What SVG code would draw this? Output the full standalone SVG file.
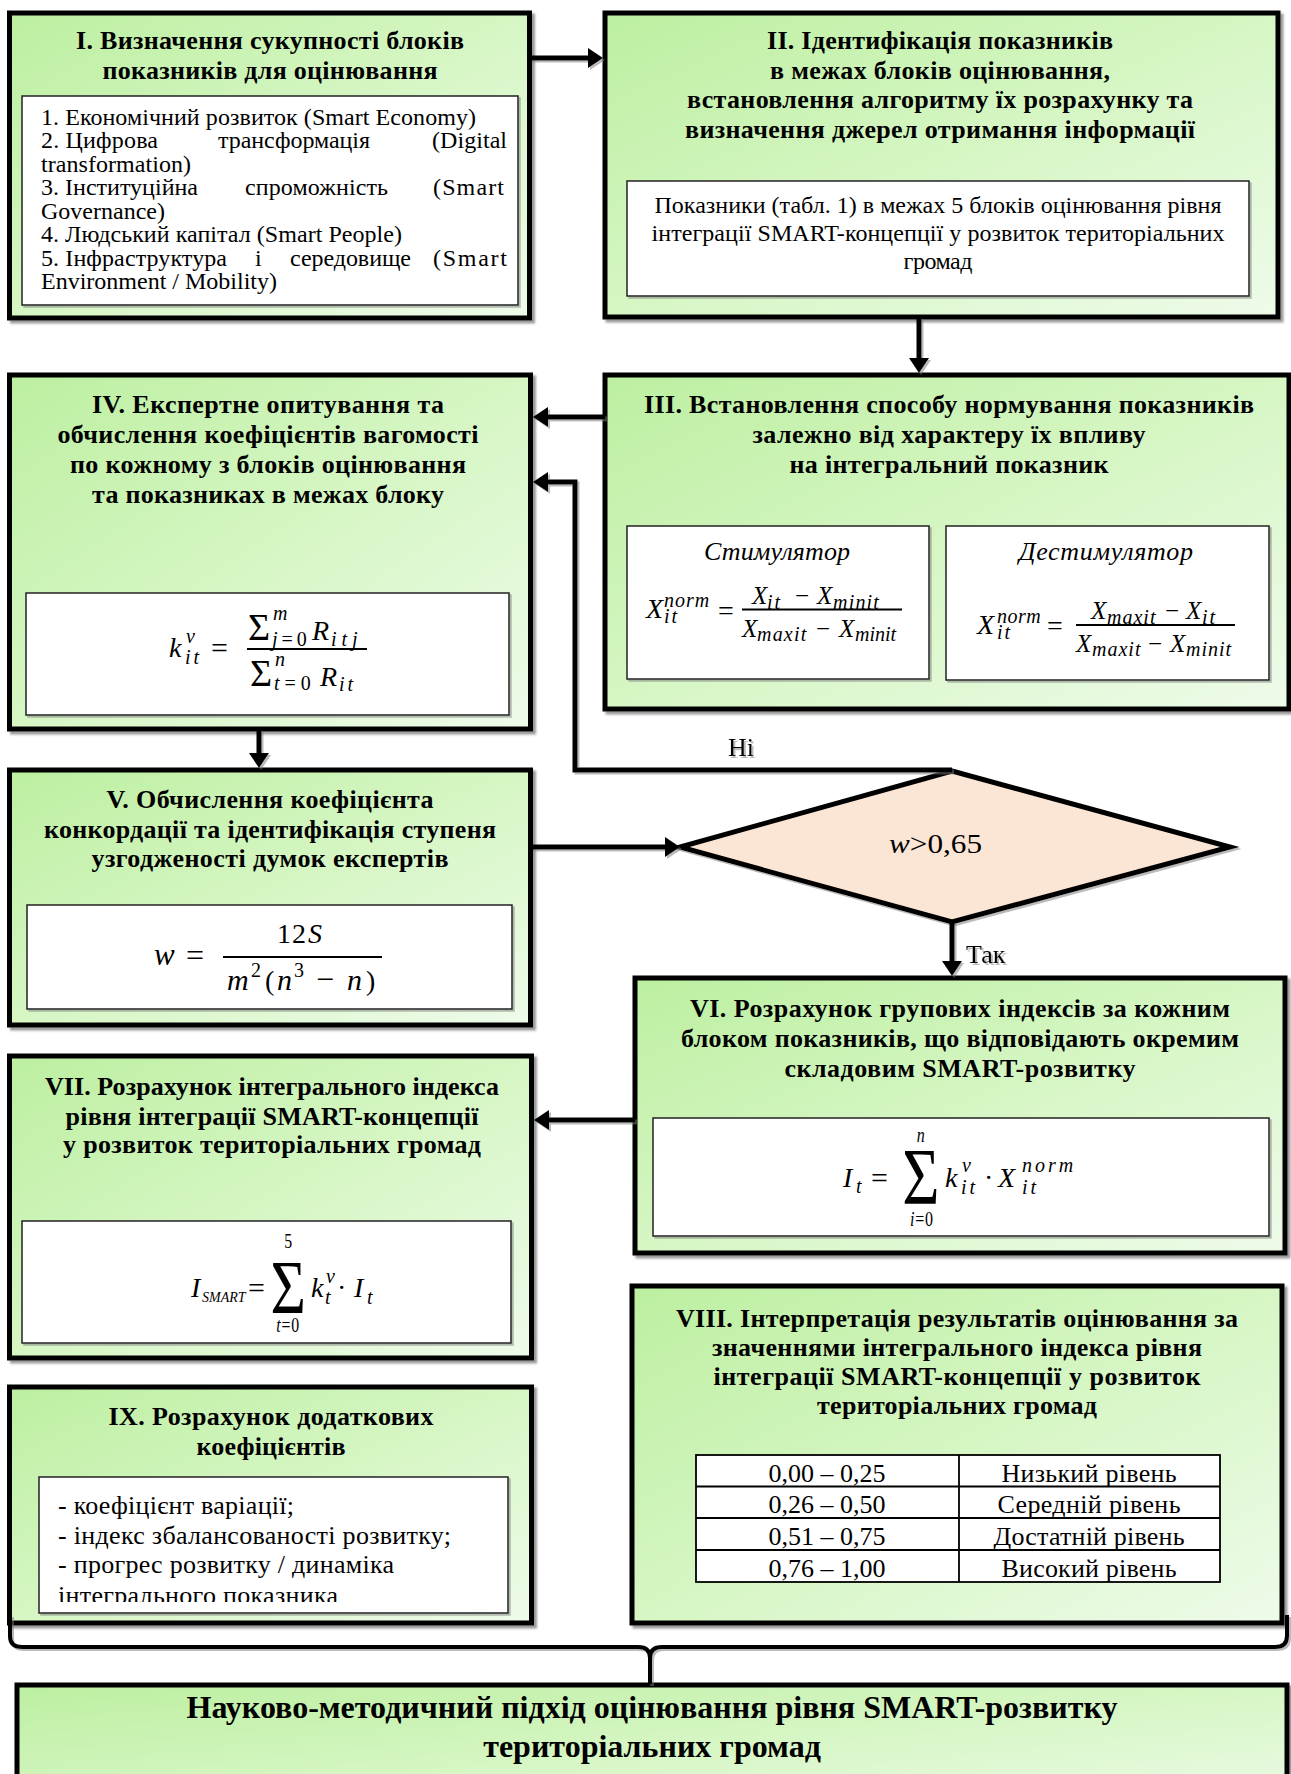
<svg xmlns="http://www.w3.org/2000/svg" width="1291" height="1774" viewBox="0 0 1291 1774">
<defs>
<linearGradient id="g" x1="0" y1="0" x2="1" y2="1">
<stop offset="0" stop-color="#bcefa0"/>
<stop offset="0.5" stop-color="#d6f6c4"/>
<stop offset="1" stop-color="#eefbea"/>
</linearGradient>
<filter id="sh" filterUnits="userSpaceOnUse" x="0" y="0" width="1291" height="1774">
<feDropShadow dx="3" dy="3" stdDeviation="0.8" flood-color="#555" flood-opacity="0.6"/>
</filter>
<filter id="sh2" filterUnits="userSpaceOnUse" x="0" y="0" width="1291" height="1774">
<feDropShadow dx="2" dy="2" stdDeviation="0.6" flood-color="#777" flood-opacity="0.5"/>
</filter>
<marker id="ah" markerUnits="userSpaceOnUse" markerWidth="15" markerHeight="20" viewBox="0 0 15 20" refX="1" refY="10" orient="auto">
<path d="M0,0 L15,10 L0,20 Z" fill="#000"/>
</marker>
<clipPath id="c9"><rect x="39" y="1477" width="469" height="125"/></clipPath>
</defs>
<style>
.box{fill:url(#g);stroke:#000;stroke-width:5}
.wb{fill:#fff;stroke:#222;stroke-width:1.5}
.t{font-family:"Liberation Serif","Times New Roman",serif;fill:#000}
.b{font-weight:700;font-size:26px;text-anchor:middle}
.r24{font-size:24px}
.r26{font-size:26px}
.mid{text-anchor:middle}
.it{font-style:italic}
.m{font-family:"Liberation Serif","Times New Roman",serif;font-style:italic;font-size:28px;fill:#000}
.m25{font-size:25px}
.s{font-size:20px}
.up{font-style:normal}
.bar{stroke:#000;stroke-width:1.8}
.con{fill:none;stroke:#000;stroke-width:5}
</style>

<g id="n1">
<rect class="box" x="9.5" y="13" width="520" height="305" filter="url(#sh)"/>
<text class="t b" x="270" y="49" textLength="388">I. Визначення сукупності блоків</text>
<text class="t b" x="270" y="79" textLength="335">показників для оцінювання</text>
<rect class="wb" x="22" y="96" width="496" height="209" filter="url(#sh2)"/>
<text class="t r24" x="41" y="125" textLength="435">1. Економічний розвиток (Smart Economy)</text>
<text class="t r24" x="41" y="148" textLength="117">2. Цифрова</text>
<text class="t r24" x="218" y="148" textLength="152">трансформація</text>
<text class="t r24" x="432" y="148" textLength="75">(Digital</text>
<text class="t r24" x="41" y="172" textLength="150">transformation)</text>
<text class="t r24" x="41" y="195" textLength="157">3. Інституційна</text>
<text class="t r24" x="245" y="195" textLength="143">спроможність</text>
<text class="t r24" x="433" y="195" textLength="71">(Smart</text>
<text class="t r24" x="41" y="219" textLength="124">Governance)</text>
<text class="t r24" x="41" y="242" textLength="361">4. Людський капітал (Smart People)</text>
<text class="t r24" x="41" y="266" textLength="186">5. Інфраструктура</text>
<text class="t r24" x="255" y="266">і</text>
<text class="t r24" x="290" y="266" textLength="121">середовище</text>
<text class="t r24" x="433" y="266" textLength="74">(Smart</text>
<text class="t r24" x="41" y="289" textLength="236">Environment / Mobility)</text>
</g>

<g id="n2">
<rect class="box" x="605" y="13" width="673" height="304" filter="url(#sh)"/>
<text class="t b" x="940" y="49" textLength="346">II. Ідентифікація показників</text>
<text class="t b" x="940" y="79" textLength="340">в межах блоків оцінювання,</text>
<text class="t b" x="940" y="108" textLength="506">встановлення алгоритму їх розрахунку та</text>
<text class="t b" x="940" y="138" textLength="510">визначення джерел отримання інформації</text>
<rect class="wb" x="627" y="181" width="622" height="115" filter="url(#sh2)"/>
<text class="t r24 mid" x="938" y="213" textLength="567">Показники (табл. 1) в межах 5 блоків оцінювання рівня</text>
<text class="t r24 mid" x="938" y="241" textLength="573">інтеграції SMART-концепції у розвиток територіальних</text>
<text class="t r24 mid" x="938" y="269" textLength="69">громад</text>
</g>

<g id="n3">
<rect class="box" x="605" y="375" width="684" height="334" filter="url(#sh)"/>
<text class="t b" x="949" y="413" textLength="610">III. Встановлення способу нормування показників</text>
<text class="t b" x="949" y="443" textLength="393">залежно від характеру їх впливу</text>
<text class="t b" x="949" y="473" textLength="319">на інтегральний показник</text>
<rect class="wb" x="627" y="526" width="302" height="153" filter="url(#sh2)"/>
<text class="t r26 it mid" x="777" y="560" textLength="146">Стимулятор</text>
<text class="m"><tspan x="646" y="618">X</tspan><tspan class="s" x="664" y="607" letter-spacing="1">norm</tspan><tspan class="s" x="664" y="623" letter-spacing="2">it</tspan><tspan class="up" x="718" y="620">=</tspan></text>
<line class="bar" x1="742" y1="609.5" x2="902" y2="609.5"/>
<text class="m m25"><tspan x="752" y="604">X</tspan><tspan class="s" x="767" y="609" letter-spacing="2">it</tspan><tspan class="up" x="795" y="604">−</tspan><tspan x="817" y="604">X</tspan><tspan class="s" x="833" y="609" letter-spacing="1.2">minit</tspan></text>
<text class="m m25"><tspan x="742" y="637">X</tspan><tspan class="s" x="757" y="641" letter-spacing="1.2">maxit</tspan><tspan class="up" x="816" y="637">−</tspan><tspan x="839" y="637">X</tspan><tspan class="s" x="855" y="641">minit</tspan></text>
<rect class="wb" x="946" y="526" width="323" height="154" filter="url(#sh2)"/>
<text class="t r26 it mid" x="1106" y="560" textLength="174">Дестимулятор</text>
<text class="m"><tspan x="977" y="634">X</tspan><tspan class="s" x="997" y="623" letter-spacing="0.5">norm</tspan><tspan class="s" x="997" y="639" letter-spacing="2">it</tspan><tspan class="up" x="1047" y="635">=</tspan></text>
<line class="bar" x1="1076" y1="625" x2="1235" y2="625"/>
<text class="m m25"><tspan x="1091" y="619">X</tspan><tspan class="s" x="1107" y="624" letter-spacing="1">maxit</tspan><tspan class="up" x="1165" y="619">−</tspan><tspan x="1186" y="619">X</tspan><tspan class="s" x="1202" y="624" letter-spacing="2">it</tspan></text>
<text class="m m25"><tspan x="1076" y="652">X</tspan><tspan class="s" x="1092" y="656" letter-spacing="1">maxit</tspan><tspan class="up" x="1148" y="652">−</tspan><tspan x="1170" y="652">X</tspan><tspan class="s" x="1186" y="656" letter-spacing="1">minit</tspan></text>
</g>

<g id="n4">
<rect class="box" x="9.5" y="375" width="521" height="354" filter="url(#sh)"/>
<text class="t b" x="268" y="413" textLength="352">IV. Експертне опитування та</text>
<text class="t b" x="268" y="443" textLength="421">обчислення коефіцієнтів вагомості</text>
<text class="t b" x="268" y="473" textLength="396">по кожному з блоків оцінювання</text>
<text class="t b" x="268" y="503" textLength="352">та показниках в межах блоку</text>
<rect class="wb" x="26" y="593" width="483" height="122" filter="url(#sh2)"/>
<text class="m"><tspan x="169" y="657">k</tspan><tspan class="s" x="186" y="643">v</tspan><tspan class="s" x="185" y="664" letter-spacing="3">it</tspan><tspan class="up" x="211" y="658" font-size="30">=</tspan></text>
<line class="bar" x1="247" y1="649" x2="367" y2="649"/>
<text class="m"><tspan class="up" x="248" y="640" font-size="38">Σ</tspan><tspan class="s" x="273" y="620">m</tspan><tspan class="s" x="272" y="646" letter-spacing="4">j<tspan class="up">=0</tspan></tspan><tspan x="312" y="640">R</tspan><tspan class="s" x="331" y="646" letter-spacing="5">itj</tspan></text>
<text class="m"><tspan class="up" x="250" y="686" font-size="38">Σ</tspan><tspan class="s" x="275" y="666">n</tspan><tspan class="s" x="274" y="690" letter-spacing="5">t<tspan class="up">=0</tspan></tspan><tspan x="320" y="686">R</tspan><tspan class="s" x="339" y="691" letter-spacing="3">it</tspan></text>
</g>

<g id="n5">
<rect class="box" x="9.5" y="770" width="521" height="255" filter="url(#sh)"/>
<text class="t b" x="270" y="808" textLength="327">V. Обчислення коефіцієнта</text>
<text class="t b" x="270" y="838" textLength="452">конкордації та ідентифікація ступеня</text>
<text class="t b" x="270" y="867" textLength="357">узгодженості думок експертів</text>
<rect class="wb" x="27" y="905" width="485" height="104" filter="url(#sh2)"/>
<text class="m"><tspan x="154" y="965" font-size="31">w</tspan><tspan class="up" x="186" y="966" font-size="32">=</tspan></text>
<line class="bar" x1="223" y1="957" x2="382" y2="957"/>
<text class="m"><tspan class="up" x="277" y="943" letter-spacing="1">12</tspan><tspan x="308" y="943">S</tspan></text>
<text class="m"><tspan x="227" y="990" font-size="30">m</tspan><tspan class="s up" x="251" y="977">2</tspan><tspan class="up" x="265" y="990">(</tspan><tspan x="277" y="990" font-size="30">n</tspan><tspan class="s up" x="294" y="977">3</tspan><tspan class="up" x="316" y="990" font-size="32">−</tspan><tspan x="347" y="990" font-size="30">n</tspan><tspan class="up" x="366" y="990">)</tspan></text>
</g>

<g id="n_decision">
<polygon points="952,771 1230,847 952,922 680,847" fill="#fbe5d5" stroke="#000" stroke-width="5" stroke-linejoin="miter" filter="url(#sh2)"/>
<text class="t" x="889" y="853" font-size="28" textLength="93" lengthAdjust="spacingAndGlyphs"><tspan font-style="italic">w</tspan>&gt;0,65</text>
</g>

<g id="n6">
<rect class="box" x="635" y="978" width="650" height="275" filter="url(#sh)"/>
<text class="t b" x="960" y="1017" textLength="540">VI. Розрахунок групових індексів за кожним</text>
<text class="t b" x="960" y="1047" textLength="558">блоком показників, що відповідають окремим</text>
<text class="t b" x="960" y="1077" textLength="351">складовим SMART-розвитку</text>
<rect class="wb" x="653" y="1118" width="616" height="118" filter="url(#sh2)"/>
<text class="m"><tspan x="843" y="1187">I</tspan><tspan class="s" x="856" y="1193">t</tspan><tspan class="up" x="871" y="1188" font-size="30">=</tspan></text>
<text class="m mid" transform="translate(902,1204) scale(0.8,1)"><tspan class="up" x="23.5" y="0" font-size="80">Σ</tspan><tspan class="s" x="23.5" y="-62" font-size="21">n</tspan><tspan class="s" x="25" y="22" font-size="21" letter-spacing="1">i<tspan class="up">=0</tspan></tspan></text>
<text class="m"><tspan x="945" y="1187">k</tspan><tspan class="s" x="962" y="1172">v</tspan><tspan class="s" x="961" y="1194" letter-spacing="3">it</tspan><tspan class="up" x="984" y="1187">·</tspan><tspan x="998" y="1187">X</tspan><tspan class="s" x="1022" y="1172" letter-spacing="3">norm</tspan><tspan class="s" x="1022" y="1194" letter-spacing="3">it</tspan></text>
</g>

<g id="n7">
<rect class="box" x="9.5" y="1056" width="522" height="302" filter="url(#sh)"/>
<text class="t b" x="272" y="1095" textLength="454">VII. Розрахунок інтегрального індекса</text>
<text class="t b" x="272" y="1125" textLength="413">рівня інтеграції SMART-концепції</text>
<text class="t b" x="272" y="1153" textLength="418">у розвиток територіальних громад</text>
<rect class="wb" x="22" y="1221" width="489" height="122" filter="url(#sh2)"/>
<text class="m"><tspan x="191" y="1297">I</tspan><tspan x="202" y="1302" font-size="14">SMART</tspan><tspan class="up" x="248" y="1298" font-size="30">=</tspan></text>
<text class="m mid" transform="translate(270,1313) scale(0.79,1)"><tspan class="up" x="23" y="0" font-size="77">Σ</tspan><tspan class="s up" x="23" y="-65" font-size="21">5</tspan><tspan class="s" x="23" y="19" font-size="21" letter-spacing="1">t<tspan class="up">=0</tspan></tspan></text>
<text class="m"><tspan x="311" y="1297">k</tspan><tspan class="s" x="326" y="1283">v</tspan><tspan class="s" x="325" y="1304">t</tspan><tspan class="up" x="337" y="1297">·</tspan><tspan x="354" y="1297">I</tspan><tspan class="s" x="367" y="1304">t</tspan></text>
</g>

<g id="n8">
<rect class="box" x="632" y="1286" width="650" height="337" filter="url(#sh)"/>
<text class="t b" x="957" y="1327" textLength="562">VIII. Інтерпретація результатів оцінювання за</text>
<text class="t b" x="957" y="1356" textLength="490">значеннями інтегрального індекса рівня</text>
<text class="t b" x="957" y="1385" textLength="487">інтеграції SMART-концепції у розвиток</text>
<text class="t b" x="957" y="1414" textLength="280">територіальних громад</text>
<rect x="696" y="1455" width="524" height="127" fill="#fff" stroke="#000" stroke-width="1.8"/>
<line x1="959" y1="1455" x2="959" y2="1582" stroke="#000" stroke-width="1.8"/>
<line x1="696" y1="1486.5" x2="1220" y2="1486.5" stroke="#000" stroke-width="1.8"/>
<line x1="696" y1="1518" x2="1220" y2="1518" stroke="#000" stroke-width="1.8"/>
<line x1="696" y1="1550" x2="1220" y2="1550" stroke="#000" stroke-width="1.8"/>
<text class="t r26 mid" x="827" y="1482" textLength="117">0,00 – 0,25</text>
<text class="t r26 mid" x="1089" y="1482" textLength="175">Низький рівень</text>
<text class="t r26 mid" x="827" y="1513" textLength="117">0,26 – 0,50</text>
<text class="t r26 mid" x="1089" y="1513" textLength="183">Середній рівень</text>
<text class="t r26 mid" x="827" y="1545" textLength="117">0,51 – 0,75</text>
<text class="t r26 mid" x="1089" y="1545" textLength="191">Достатній рівень</text>
<text class="t r26 mid" x="827" y="1577" textLength="117">0,76 – 1,00</text>
<text class="t r26 mid" x="1089" y="1577" textLength="175">Високий рівень</text>
</g>

<g id="n9">
<rect class="box" x="9.5" y="1387" width="522" height="236" filter="url(#sh)"/>
<text class="t b" x="271" y="1425" textLength="325">IX. Розрахунок додаткових</text>
<text class="t b" x="271" y="1455" textLength="149">коефіцієнтів</text>
<rect class="wb" x="39" y="1477" width="469" height="136" filter="url(#sh2)"/>
<g clip-path="url(#c9)">
<text class="t r26" x="58" y="1514" textLength="236">- коефіцієнт варіації;</text>
<text class="t r26" x="58" y="1544" textLength="393">- індекс збалансованості розвитку;</text>
<text class="t r26" x="58" y="1573" textLength="336">- прогрес розвитку / динаміка</text>
<text class="t r26" x="58" y="1604" textLength="280">інтегрального показника</text>
</g>
</g>

<g id="n10">
<rect class="box" x="17" y="1685" width="1270" height="130" filter="url(#sh)"/>
<text class="t" x="652" y="1718" font-size="32" font-weight="700" text-anchor="middle">Науково-методичний підхід оцінювання рівня SMART-розвитку</text>
<text class="t" x="652" y="1757" font-size="32" font-weight="700" text-anchor="middle">територіальних громад</text>
</g>

<g id="connectors" filter="url(#sh2)">
<path class="con" d="M530,58 H589" marker-end="url(#ah)"/>
<path class="con" d="M919,317 V359" marker-end="url(#ah)"/>
<path class="con" d="M605,417 H547" marker-end="url(#ah)"/>
<path class="con" d="M952,770 H575 V482 H547" marker-end="url(#ah)"/>
<path class="con" d="M259,729 V754" marker-end="url(#ah)"/>
<path class="con" d="M531,847 H666" marker-end="url(#ah)"/>
<path class="con" d="M952,922 V962" marker-end="url(#ah)"/>
<path class="con" d="M635,1120 H548" marker-end="url(#ah)"/>
<text class="t r26 mid" x="741" y="756">Ні</text>
<text class="t r26" x="966" y="963">Так</text>
<path d="M10,1615 V1636 Q10,1647 22,1647 H638 Q650,1647 650,1658 V1684 M1287,1615 V1636 Q1287,1647 1275,1647 H662 Q650,1647 650,1658" fill="none" stroke="#000" stroke-width="4"/>
</g>
</svg>
